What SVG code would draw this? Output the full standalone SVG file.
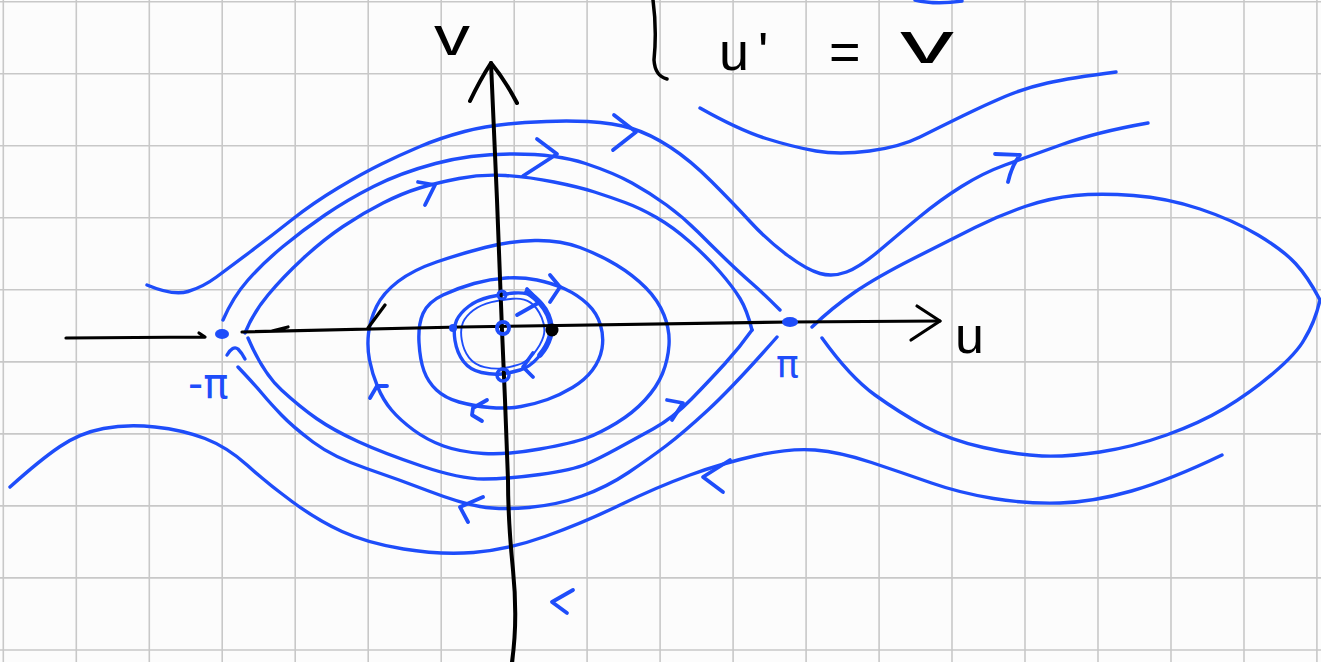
<svg xmlns="http://www.w3.org/2000/svg" width="1321" height="662" viewBox="0 0 1321 662">
<style>
.grid{fill:none;stroke:#c8c8c8;stroke-width:1.6}
.ax{fill:none;stroke:#000;stroke-width:3.2;stroke-linecap:round;stroke-linejoin:round}
.tr{fill:none;stroke:#1e4dfa;stroke-width:3.4;stroke-linecap:round;stroke-linejoin:round}
.arr{fill:none;stroke:#1e4dfa;stroke-width:3.8;stroke-linecap:round;stroke-linejoin:round}
.bt{font-family:"Liberation Sans",Arial,sans-serif;fill:#000}
.blt{font-family:"DejaVu Sans","Liberation Sans",sans-serif;fill:#1e4dfa}
</style>
<rect width="1321" height="662" fill="#fcfcfc"/>
<g id="grid">
<path class="grid" d="M3.3,0V662M76.3,0V662M149.3,0V662M222.2,0V662M295.2,0V662M368.2,0V662M441.2,0V662M514.2,0V662M587.1,0V662M660.1,0V662M733.1,0V662M806.1,0V662M879.1,0V662M952,0V662M1025,0V662M1098,0V662M1171,0V662M1244,0V662M1316.9,0V662M0,1.7H1321M0,73.7H1321M0,145.8H1321M0,217.8H1321M0,289.8H1321M0,361.9H1321M0,433.9H1321M0,505.9H1321M0,577.9H1321M0,650H1321"/>
</g>
<g id="trajectories">
<path class="tr" d="M147,285 Q173,296 188,291.5 Q203,287 216.5,277 Q230,267 250,252 Q270,237 291.5,220 Q313,203 338,188 Q363,173 381.5,164 Q400,155 420,146.5 Q440,138 464.5,131.5 Q489,125 525,122.5 Q561,120 587.5,121.5 Q614,123 632,128.5 Q650,134 670,147 Q690,160 711.5,181.5 Q733,203 750,221.5 Q767,240 787,255 Q807,270 820,273.5 Q833,277 846.5,272 Q860,267 880,250 Q900,233 920,216.5 Q940,200 961.5,186.5 Q983,173 1005,165 Q1027,157 1062,144.5 Q1097,132 1148,123"/>
<path class="tr" d="M700,108 Q739,130 766,138.5 Q793,147 816,151 Q839,155 869.5,151 Q900,147 920,137 Q940,127 962.5,116 Q985,105 1005,96.5 Q1025,88 1047.5,83 Q1070,78 1116,72"/>
<path class="tr" d="M915,0 Q935,5 962,1"/>
<path class="tr" d="M223,320 Q233,297 248,280 Q263,263 283,246.5 Q303,230 325,215 Q347,200 373.5,186.5 Q400,173 435.5,163.5 Q471,154 514,154 Q557,154 585.5,163.5 Q614,173 632,183 Q650,193 666.5,205 Q683,217 698,232 Q713,247 726.5,260 Q740,273 751.5,283 Q763,293 780,310"/>
<path class="tr" d="M238,367 Q255,385 262.5,394 Q270,403 281.5,415 Q293,427 313,442 Q333,457 366.5,468.5 Q400,480 430,491.5 Q460,503 480,506.5 Q500,510 528.5,507.5 Q557,505 582,496 Q607,487 628.5,472.5 Q650,458 666.5,445.5 Q683,433 708,410 Q733,387 777,337"/>
<path class="tr" d="M245,333 Q253,313 268,295 Q283,277 303,258.5 Q323,240 343,226.5 Q363,213 383,203 Q403,193 419.5,188 Q436,183 459,178.5 Q482,174 505.5,175.5 Q529,177 554,182 Q579,187 594.5,192 Q610,197 625,202.5 Q640,208 656.5,217.5 Q673,227 690,242 Q707,257 720,272 Q733,287 740,298.5 Q747,310 752,330"/>
<path class="tr" d="M752,330 Q740,347 725,363.5 Q710,380 691.5,399 Q673,418 653,429 Q633,440 616.5,449 Q600,458 586.5,464 Q573,470 540,474.5 Q507,479 483.5,479 Q460,479 421.5,466 Q383,453 358,441.5 Q333,430 316.5,418.5 Q300,407 281.5,390 Q263,373 248,338"/>
<path class="tr" d="M368.5,333.5 Q370,320 376.5,306.5 Q383,293 398,281.5 Q413,270 436.5,262 Q460,254 485,247.5 Q510,241 535,240.5 Q560,240 580,247.5 Q600,255 616.5,265 Q633,275 645.5,287.5 Q658,300 664,315 Q670,330 669,345 Q668,360 662.5,373.5 Q657,387 645,400 Q633,413 616.5,423 Q600,433 586.5,438 Q573,443 540,449 Q507,455 483.5,453.5 Q460,452 443.5,446 Q427,440 413.5,430 Q400,420 391.5,410 Q383,400 377.5,386.5 Q372,373 369.5,360 Q367,347 368.5,333.5 Z"/>
<path class="tr" d="M419,342.5 Q418,325 423,313.5 Q428,302 443,295 Q458,288 474,283.5 Q490,279 506,278 Q522,277 537,280 Q552,283 565,289 Q578,295 587.5,304 Q597,313 600.5,325 Q604,337 602,348.5 Q600,360 592.5,370 Q585,380 572.5,387.5 Q560,395 547.5,399.5 Q535,404 521,406.5 Q507,409 490,407.5 Q473,406 459,402 Q445,398 436.5,390 Q428,382 424,371 Q420,360 419,342.5 Z"/>
<path class="tr" d="M455,340.5 Q453,328 456.5,320.5 Q460,313 468.5,306.5 Q477,300 489.5,297 Q502,294 514.5,293 Q527,292 535,297.5 Q543,303 548,315 Q553,327 550,337 Q547,347 538.5,357 Q530,367 520,370 Q510,373 501.5,374 Q493,375 481.5,372.5 Q470,370 463.5,361.5 Q457,353 455,340.5 Z"/>
<path class="tr" style="stroke-width:2.2" transform="translate(503 334) scale(0.86) translate(-503 -334)" d="M455,340.5 Q453,328 456.5,320.5 Q460,313 468.5,306.5 Q477,300 489.5,297 Q502,294 514.5,293 Q527,292 535,297.5 Q543,303 548,315 Q553,327 550,337 Q547,347 538.5,357 Q530,367 520,370 Q510,373 501.5,374 Q493,375 481.5,372.5 Q470,370 463.5,361.5 Q457,353 455,340.5 Z"/>
<path class="tr" style="stroke-width:5.5" d="M527,292 Q543,303 548,315 Q553,327 550,337 Q547,347 540,355"/>
<path class="tr" d="M812,327 Q833,307 855,292 Q877,277 913.5,258.5 Q950,240 975,227.5 Q1000,215 1025,206.5 Q1050,198 1075,195.5 Q1100,193 1133.5,195.5 Q1167,198 1200,209 Q1233,220 1258,235 Q1283,250 1295.5,263.5 Q1308,277 1320,300 Q1315,322 1304.5,339 Q1297,353 1273.5,373 Q1250,393 1225,408 Q1200,423 1166.5,435 Q1133,447 1100,452 Q1067,457 1042,456 Q1017,455 983.5,447.5 Q950,440 925,426.5 Q900,413 875,395 Q850,377 822,338"/>
<path class="tr" d="M10,487 Q40,460 60,446.5 Q80,433 103.5,428.5 Q127,424 155,427 Q183,430 205,438.5 Q227,447 247,465 Q267,483 292,501.5 Q317,520 342,531.5 Q367,543 403.5,549 Q440,555 473.5,552.5 Q507,550 545,536.5 Q583,523 620,505 Q657,487 690,475 Q723,463 756.5,455.5 Q790,448 815,450 Q840,452 871.5,462.5 Q903,473 931.5,483 Q960,493 993.5,498.5 Q1027,504 1060,503 Q1093,502 1131.5,491 Q1170,480 1222,455"/>
</g>
<g id="arrows">
<path class="arr" d="M614,115 L636,132 L613,150"/>
<path class="arr" d="M537,139 L557,154 L523,176"/>
<path class="arr" d="M418,182 L435,185 L425,205"/>
<path class="arr" d="M550,275 L560,287 L550,302"/>
<path class="arr" d="M995,154 L1020,155 Q1012,165 1008,182"/>
<path class="arr" d="M370,398 L377,386 L387,386"/>
<path class="arr" d="M527,289 L540,302 L517,315"/>
<path class="arr" d="M533,353 L523,367 L533,377"/>
<path class="arr" d="M667,400 L683,403 L672,420"/>
<path class="arr" d="M487,400 L473,408 L472,415 L482,421"/>
<path class="arr" d="M483,497 L460,507 L468,522"/>
<path class="arr" d="M730,460 L703,477 L723,492"/>
<path class="arr" d="M573,590 L552,602 L567,613"/>
</g>
<g id="axes">
<path class="ax" d="M66,338 L205,337 M199,333 L205,337"/>
<path class="ax" d="M242,332 L460,327 L790,322 L940,321 M272,331 L288,327 M368,328 L385,305"/>
<path class="ax" d="M917,306 L940,321 L911,340"/>
<path class="ax" style="stroke-width:4" d="M512,662 Q518,620 513,570 Q508,520 508,480 L505,400 L502,330 L497,200 L491,63"/>
<path class="ax" style="stroke-width:4" d="M470,101 Q480,80 491,63 Q505,80 517,103"/>
<path class="ax" style="stroke-width:3.5" d="M653,0 Q657,30 654,60 Q655,76 667,79"/>
</g>
<g id="points">
<ellipse cx="222" cy="334" rx="7" ry="5" fill="#1e4dfa"/>
<ellipse cx="790" cy="322" rx="8" ry="5" fill="#1e4dfa"/>
<circle cx="503" cy="328" r="6" fill="none" stroke="#1e4dfa" stroke-width="4"/>
<circle cx="552" cy="330" r="6.5" fill="#000"/>
<circle cx="453" cy="328" r="4" fill="#1e4dfa"/>
<circle cx="502" cy="295" r="4" fill="none" stroke="#1e4dfa" stroke-width="3"/>
<circle cx="503" cy="375" r="6" fill="none" stroke="#1e4dfa" stroke-width="3.5"/>
</g>
<g id="labels">
<text class="bt" x="434" y="55" font-size="56" textLength="36" lengthAdjust="spacingAndGlyphs">v</text>
<text class="bt" x="955" y="353" font-size="52">u</text>
<text class="bt" font-size="54"><tspan x="719" y="70">u</tspan><tspan x="758" y="70">'</tspan><tspan x="829" y="70">=</tspan></text>
<text class="bt" x="900" y="63" font-size="60" textLength="54" lengthAdjust="spacingAndGlyphs">v</text>
<text class="blt" x="776" y="377" font-size="38">π</text>
<text class="blt" x="188" y="398" font-size="42">-π</text>
<path class="tr" d="M227,355 Q233,345 238,349 Q242,353 245,359"/>
</g>
</svg>
